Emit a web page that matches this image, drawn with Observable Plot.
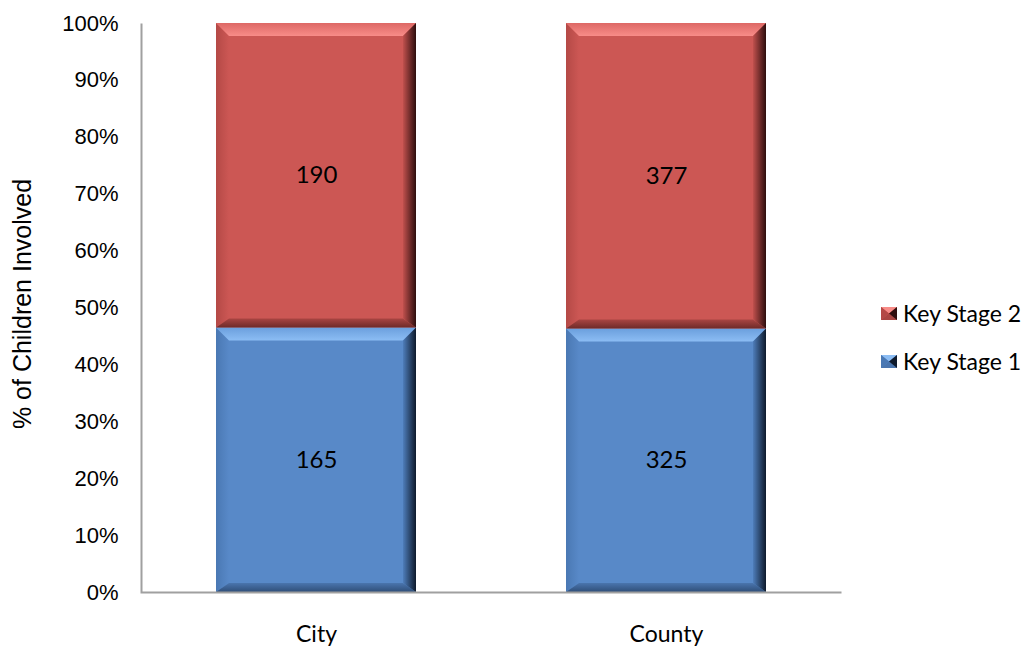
<!DOCTYPE html>
<html><head><meta charset="utf-8">
<script src="https://cdn.jsdelivr.net/npm/d3@7"></script>
<script src="https://cdn.jsdelivr.net/npm/@observablehq/plot@0.6"></script>
<style>
body{margin:0;background:#fff;}
#wrap{position:relative;width:1032px;height:648px;overflow:hidden;}
#wrap svg.plot{position:absolute;left:0;top:0;}
g[aria-label="y-axis tick label"] text{font-family:"Liberation Sans",Arial,sans-serif;font-size:22px;fill:#000;}
g[aria-label="x-axis tick label"] text{font-family:Lato,"Open Sans",sans-serif;font-size:23px;fill:#000;}
.legend{position:absolute;left:881px;font-family:Lato,"Open Sans",sans-serif;font-size:23px;color:#000;display:flex;align-items:center;height:24px;white-space:nowrap;}
.legend svg{margin-right:6px;}
</style></head><body><div id="wrap"></div>
<script>
const categories = ["City", "County"];
const seriesNames = ["Key Stage 1", "Key Stage 2"];
const keyStage1 = [165, 325];
const keyStage2 = [190, 377];
const yTickValues = [0, 0.1, 0.2, 0.3, 0.4, 0.5, 0.6, 0.7, 0.8, 0.9, 1];
const yTitle = "% of Children Involved";
const seriesColors = ["#5889C8", "#CC5754"];
const legendOrder = ["Key Stage 2", "Key Stage 1"];

const rows = [];
categories.forEach((c, i) => {
  rows.push({category: c, series: seriesNames[0], value: keyStage1[i]});
  rows.push({category: c, series: seriesNames[1], value: keyStage2[i]});
});

const W = 1032, H = 648, mL = 141, mR = 191, mT = 23, mB = 56;
const fw = W - mL - mR, fh = H - mT - mB;

const chart = Plot.plot({
  width: W, height: H,
  marginLeft: mL, marginRight: mR, marginTop: mT, marginBottom: mB,
  style: {background: "white", color: "#000"},
  x: {domain: categories, paddingInner: 0.428, paddingOuter: 0.214, label: null, tickSize: 0, tickPadding: 33},
  y: {domain: [0, 1], ticks: yTickValues, tickFormat: d3.format(".0%"), label: null, tickSize: 0, tickPadding: 23},
  color: {domain: seriesNames, range: seriesColors},
  marks: [
    Plot.barY(rows, Plot.stackY({offset: "normalize", order: seriesNames, x: "category", y: "value", z: "series", fill: "series"})),
    Plot.frame({stroke: "#A0A0A0", strokeWidth: 2, strokeDasharray: `0 ${fw + fh} ${fw + fh}`}),
    Plot.text(rows, Plot.stackY({offset: "normalize", order: seriesNames, x: "category", y: "value", z: "series", text: d => String(d.value), fontFamily: "Lato, 'Open Sans', sans-serif", fontSize: 24, fill: "#000"})),
    Plot.text([yTitle], {frameAnchor: "left", rotate: -90, dx: -119, dy: -4, text: d => d, fontFamily: "'Liberation Sans', Arial, sans-serif", fontSize: 25, fill: "#000", textAnchor: "middle", lineAnchor: "middle"})
  ]
});
chart.classList.add("plot");
document.getElementById("wrap").appendChild(chart);

// bevel shading derived from rendered bar geometry
const shades = {
  "#5889C8": {top: ["#8CBDF4", "#6B9FDD"], left: ["#4A78B3", "#5889C8"], right: ["#4E7DBA", "#0E1A2C"], bottom: ["#4A75AE", "#2F4E78"]},
  "#CC5754": {top: ["#F88C88", "#DD6865"], left: ["#B44946", "#CC5754"], right: ["#C0504D", "#2E0E0E"], bottom: ["#A94542", "#6E2A28"]}
};
const svg = d3.select(chart);
const defs = svg.insert("defs", ":first-child");
let gid = 0;
function grad(c0, c1, horiz) {
  const id = "g" + (gid++);
  const g = defs.append("linearGradient").attr("id", id)
    .attr("x1", 0).attr("y1", 0).attr("x2", horiz ? 1 : 0).attr("y2", horiz ? 0 : 1);
  g.append("stop").attr("offset", 0).attr("stop-color", c0);
  g.append("stop").attr("offset", 1).attr("stop-color", c1);
  return `url(#${id})`;
}
const fills = {};
for (const k in shades) {
  const s = shades[k];
  fills[k] = {
    top: grad(s.top[1], s.top[0], false),
    left: grad(s.left[0], s.left[1], true),
    right: grad(s.right[0], s.right[1], true),
    bottom: grad(s.bottom[0], s.bottom[1], false)
  };
}
svg.selectAll('g[aria-label="bar"] rect').each(function() {
  const r = d3.select(this);
  const x = +r.attr("x"), y = +r.attr("y"), w = +r.attr("width"), h = +r.attr("height");
  const f = fills[(r.attr("fill") || "").toUpperCase()];
  if (!f) return;
  const b = 13, bb = 9;
  const p = d3.select(this.parentNode);
  const poly = (pts, fill) => p.append("polygon").attr("points", pts.map(q => q.join(",")).join(" ")).attr("fill", fill);
  poly([[x, y], [x + b, y + b], [x + b, y + h - bb], [x, y + h]], f.left);
  poly([[x, y], [x + w, y], [x + w - b, y + b], [x + b, y + b]], f.top);
  poly([[x, y + h], [x + w, y + h], [x + w - b, y + h - bb], [x + b, y + h - bb]], f.bottom);
  poly([[x + w, y], [x + w, y + h], [x + w - b, y + h - bb], [x + w - b, y + b]], f.right);
});

// legend
const colorOf = name => seriesColors[seriesNames.indexOf(name)];
const legendTops = [301, 349];
legendOrder.forEach((name, i) => {
  const c = colorOf(name);
  const s = shades[c];
  const div = document.createElement("div");
  div.className = "legend";
  div.style.top = legendTops[i] + "px";
  div.innerHTML = `<svg width="16" height="13" viewBox="0 0 16 13">
    <rect width="16" height="13" fill="${c}"/>
    <polygon points="0,0 16,0 8,6.5" fill="${s.top[0]}"/>
    <polygon points="0,13 16,13 8,6.5" fill="${s.bottom[0]}"/>
    <polygon points="0,0 8,6.5 0,13" fill="${s.left[0]}"/>
    <polygon points="16,0 8,6.5 16,13" fill="${s.right[1]}"/>
  </svg><span>${name}</span>`;
  document.getElementById("wrap").appendChild(div);
});
</script>
</body></html>
